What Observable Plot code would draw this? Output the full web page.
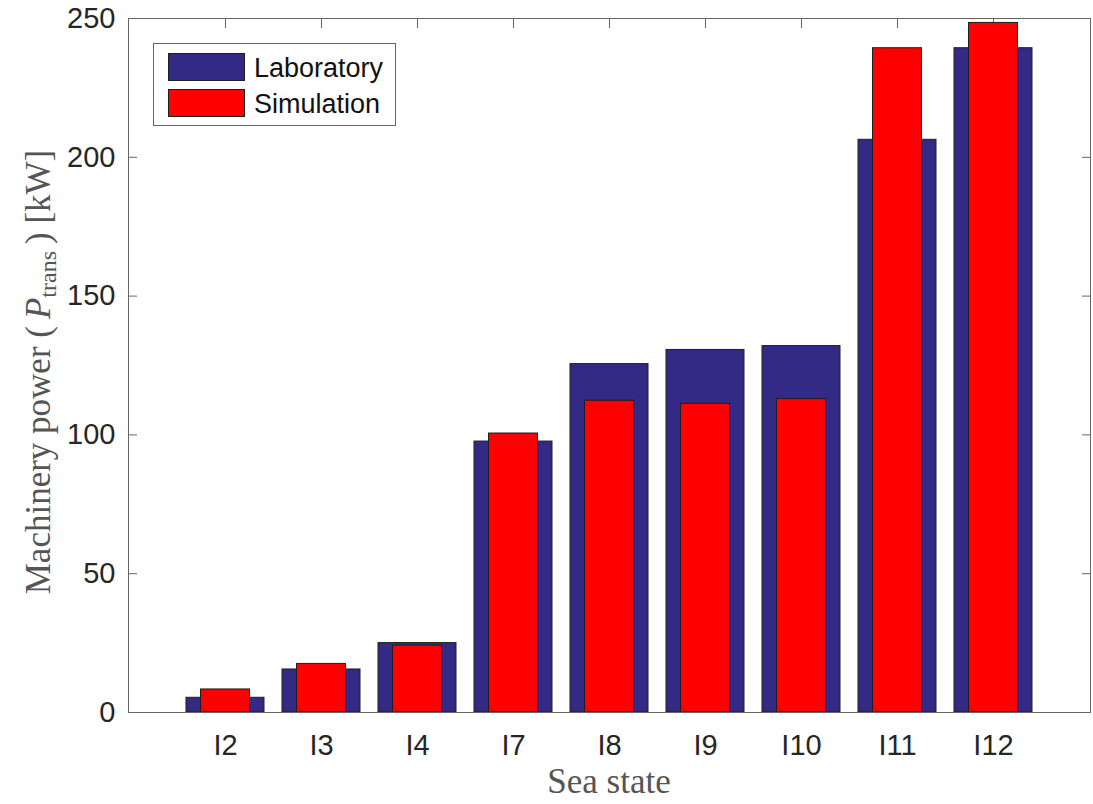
<!DOCTYPE html>
<html><head><meta charset="utf-8">
<script src="https://cdn.jsdelivr.net/npm/d3@7"></script>
<script src="https://cdn.jsdelivr.net/npm/@observablehq/plot@0.6"></script>
<style>body{margin:0;background:#fff}</style>
</head><body><div id="chart"></div>
<script>
const seaStates = ["I2","I3","I4","I7","I8","I9","I10","I11","I12"];
const laboratory = [5.3, 15.5, 25.0, 97.6, 125.5, 130.6, 132.0, 206.3, 239.3];
const simulation = [8.3, 17.5, 24.1, 100.5, 112.3, 111.2, 112.9, 239.3, 248.4];
const yTicks = [0, 50, 100, 150, 200, 250];
const seriesNames = ["Laboratory", "Simulation"];
const seriesColors = ["#332a86", "#ff0000"];

const labData = seaStates.map((s, i) => ({state: s, value: laboratory[i]}));
const simData = seaStates.map((s, i) => ({state: s, value: simulation[i]}));

const W = 1093, H = 804, ML = 128, MR = 3, MT = 18, MB = 92;
const axisColor = "#666";
const edge = "#1e1e1e";

const svg = Plot.plot({
  width: W, height: H,
  marginLeft: ML, marginRight: MR, marginTop: MT, marginBottom: MB,
  style: {fontFamily: "'Liberation Sans', Arial, sans-serif", fontSize: "29px", color: "#262626", background: "#fff", overflow: "visible"},
  x: {type: "band", domain: seaStates, paddingInner: 0, paddingOuter: 0.5, label: null},
  y: {domain: [0, 250], label: null},
  marks: [
    Plot.axisX({anchor: "bottom", tickSize: 9, dy: -9, tickFormat: () => "", stroke: axisColor, label: null}),
    Plot.axisX({anchor: "top", tickSize: 9, dy: 9, tickFormat: () => "", stroke: axisColor, label: null}),
    Plot.axisY({anchor: "left", ticks: yTicks, tickSize: 9, dx: 9, tickFormat: () => "", stroke: axisColor, label: null}),
    Plot.axisY({anchor: "right", ticks: yTicks, tickSize: 9, dx: -9, tickFormat: () => "", stroke: axisColor, label: null}),
    Plot.barY(labData, {x: "state", y: "value", fill: seriesColors[0], stroke: edge, strokeWidth: 1, insetLeft: 9, insetRight: 9}),
    Plot.barY(simData, {x: "state", y: "value", fill: seriesColors[1], stroke: edge, strokeWidth: 1, insetLeft: 23.5, insetRight: 23.5}),
    Plot.axisX({anchor: "bottom", tickSize: 0, tickPadding: 22, label: null, fill: "#262626"}),
    Plot.axisY({anchor: "left", ticks: yTicks, tickSize: 0, tickPadding: 13, label: null, fill: "#262626"}),
    Plot.frame({stroke: axisColor})
  ]
});
document.getElementById("chart").appendChild(svg);

const s = d3.select(svg);
const serif = "'Liberation Serif', 'Times New Roman', serif";
// x label
s.append("text").attr("x", (ML + W - MR) / 2).attr("y", 793)
  .attr("text-anchor", "middle").attr("font-family", serif).attr("font-size", 35)
  .attr("fill", "#555").text("Sea state");
// y label
const yl = s.append("text").attr("transform", `translate(50,372) rotate(-90)`)
  .attr("text-anchor", "middle").attr("font-family", serif).attr("font-size", 35).attr("fill", "#555");
yl.append("tspan").text("Machinery power (\u2009");
yl.append("tspan").attr("font-style", "italic").text("P");
yl.append("tspan").attr("font-size", 24).attr("dy", 6).text("trans");
yl.append("tspan").attr("dy", -6).text("\u2009) [kW]");

// legend
const lg = s.append("g");
lg.append("rect").attr("x", 153.5).attr("y", 43.5).attr("width", 242).attr("height", 82)
  .attr("fill", "#fff").attr("stroke", axisColor);
seriesNames.forEach((name, i) => {
  const y0 = 53 + i * 36;
  lg.append("rect").attr("x", 168.5).attr("y", y0 + 0.5).attr("width", 76).attr("height", 27)
    .attr("fill", seriesColors[i]).attr("stroke", edge);
  lg.append("text").attr("x", 254).attr("y", y0 + 24).attr("text-anchor", "start")
    .attr("font-family", "'Liberation Sans', Arial, sans-serif").attr("font-size", 27)
    .attr("fill", "#111").text(name);
});
</script>
</body></html>
